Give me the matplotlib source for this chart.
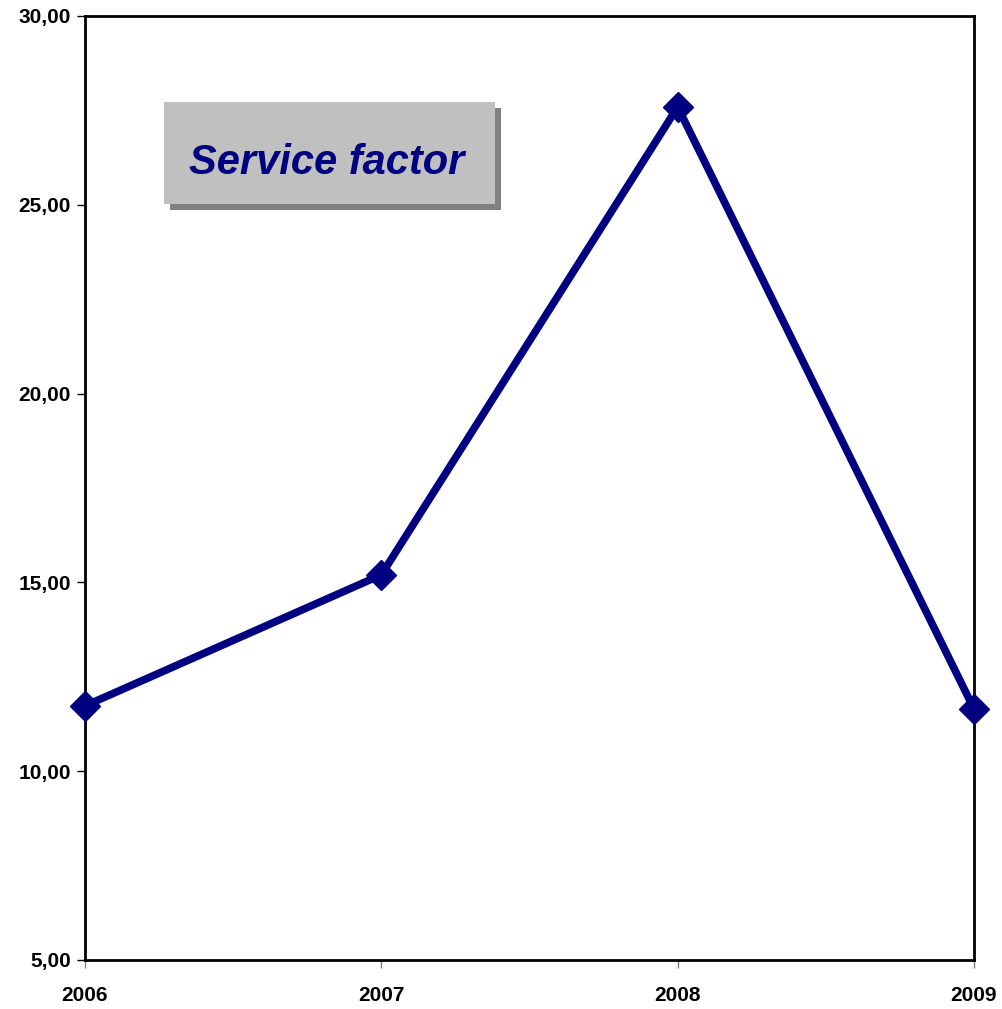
import matplotlib.pyplot as plt
from matplotlib.patches import Rectangle
from matplotlib.ticker import FuncFormatter

years = ['2006', '2007', '2008', '2009']
service_factor = [11.73, 15.20, 27.59, 11.65]

plt.rcParams['font.family'] = ['Liberation Sans', 'DejaVu Sans']

W, H = 1003, 1009
fig = plt.figure(figsize=(W / 100, H / 100), dpi=100)
ax = fig.add_axes([85 / W, 1 - 960 / H, (974 - 85) / W, (960 - 16) / H])

x = range(len(years))
ax.plot(x, service_factor, color='#000080', lw=5.5, marker='D', ms=15,
        clip_on=False, zorder=5)

ax.set_xlim(0, len(years) - 1)
ax.set_ylim(5, 30)
ax.set_yticks([5, 10, 15, 20, 25, 30])
ax.yaxis.set_major_formatter(FuncFormatter(lambda v, p: f'{v:.2f}'.replace('.', ',')))
ax.set_xticks(list(x))
ax.set_xticklabels(years)

for s in ax.spines.values():
    s.set_linewidth(2)
ax.tick_params(axis='y', direction='out', length=6, width=1, pad=4)
ax.tick_params(axis='x', direction='out', length=6, width=1, color='#808080', pad=13)
for lab in ax.get_xticklabels() + ax.get_yticklabels():
    lab.set_fontsize(15)
    lab.set_fontweight('bold')

# title box with shadow
def box(x0, y0, x1, y1, color):
    fig.patches.append(Rectangle((x0 / W, 1 - y1 / H), (x1 - x0) / W, (y1 - y0) / H,
                                 transform=fig.transFigure, color=color, lw=0, zorder=10))

box(170, 108, 501, 210, '#808080')
box(164, 102, 495, 204, '#C0C0C0')
fig.text(327 / W, 1 - 163 / H, 'Service factor', ha='center', va='center',
         fontsize=30, fontweight='bold', fontstyle='italic', color='#000080', zorder=11)

fig.savefig('out.png', dpi=100)
